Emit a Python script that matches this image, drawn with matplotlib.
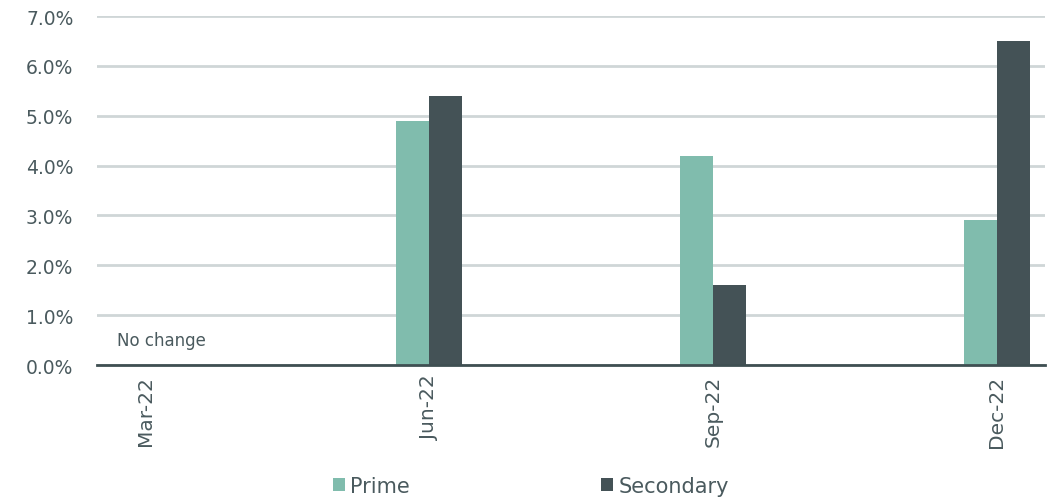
import numpy as np
import matplotlib.pyplot as plt

quarters = ['Mar-22', 'Jun-22', 'Sep-22', 'Dec-22']
prime = [0.0, 4.9, 4.2, 2.9]
secondary = [0.0, 5.4, 1.6, 6.5]

text_col = '#4a5a5e'
plt.rcParams['font.family'] = ['DejaVu Sans']

fig = plt.figure(figsize=(10.51, 5.02), dpi=100)
ax = fig.add_axes([0.0923, 0.2709, 0.902, 0.6952])

x = np.arange(len(quarters))
w = 0.116
ax.bar(x - w / 2, prime, w, color='#80bcad', label='Prime', zorder=3)
ax.bar(x + w / 2, secondary, w, color='#445256', label='Secondary', zorder=3)

ax.set_xlim(-0.17, 3.17)
ax.set_ylim(0, 7)
ax.set_yticks(np.arange(0, 8, 1))
ax.set_yticklabels([f'{v:.1f}%' for v in np.arange(0, 8, 1)])
ax.grid(axis='y', color='#cfd6d7', linewidth=2, zorder=0)
ax.axhline(0, color='#3f4f52', linewidth=2, zorder=4, clip_on=False)

ax.set_xticks(x)
ax.set_xticklabels(quarters, rotation=90, va='top', ha='center')
ax.tick_params(axis='both', length=0, labelsize=13.5, labelcolor=text_col)
ax.tick_params(axis='x', labelsize=14.5, pad=7)
ax.tick_params(axis='y', pad=17)
for s in ax.spines.values():
    s.set_visible(False)

ax.text(-0.1, 0.33, 'No change', fontsize=12, color=text_col, va='bottom')

leg = fig.legend(loc='center', bbox_to_anchor=(0.505, 0.030), ncol=2, frameon=False,
                 fontsize=15, handlelength=0.58, handleheight=0.58, handletextpad=0.25,
                 columnspacing=9.2, labelcolor=text_col)

fig.savefig('out.png', dpi=100)
